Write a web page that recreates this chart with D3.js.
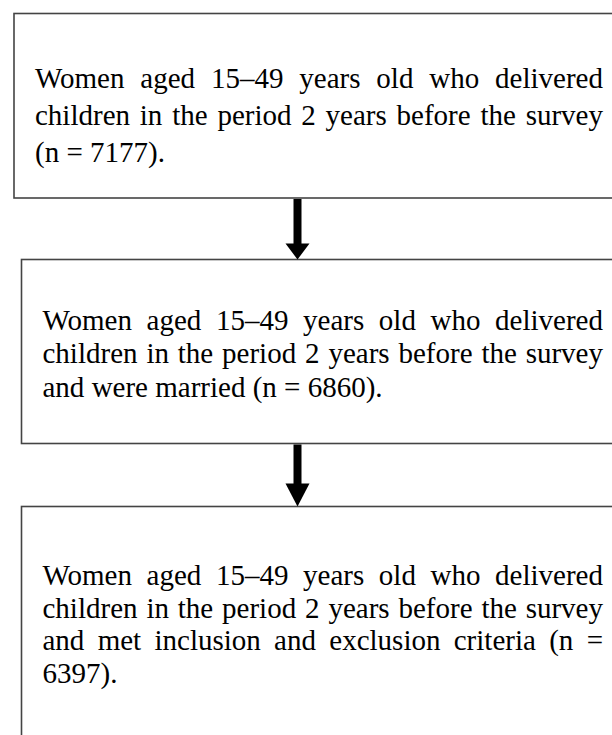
<!DOCTYPE html>
<html>
<head>
<meta charset="utf-8">
<script src="https://cdn.jsdelivr.net/npm/d3@7"></script>
<style>
    html, body { margin: 0; padding: 0; background: #fff; }
    svg { display: block; }
    .box-text { font-family: "Liberation Serif", "Times New Roman", serif; font-size: 29px; fill: #000; }
</style>
</head>
<body>
<div id="chart"></div>
<script>
// flow steps: what each stage describes and how many women remain
const step_descriptions = [
    'Women aged 15–49 years old who delivered children in the period 2 years before the survey',
    'Women aged 15–49 years old who delivered children in the period 2 years before the survey and were married',
    'Women aged 15–49 years old who delivered children in the period 2 years before the survey and met inclusion and exclusion criteria'
];
const sample_sizes = [7177, 6860, 6397];

// layout of each box (kept apart from the data)
const box_layout = [
    {x: 14, y: 13.5, h: 184.5, text_left: 35, text_right: 603, first_baseline: 87.5, line_gap: 37},
    {x: 21.5, y: 259.5, h: 184, text_left: 42.5, text_right: 603, first_baseline: 329.5, line_gap: 33.5},
    {x: 21.5, y: 506.5, h: 260, text_left: 42.5, text_right: 603, first_baseline: 585, line_gap: 32.7}
];
const arrow_x = 297.5;
const arrow_head_heights = [16, 23];

const width = 612, height = 735;

let svg = d3.select('#chart').append('svg')
    .attr('width', width)
    .attr('height', height);

let steps = step_descriptions.map((desc, i) => ({
    text: desc + ' (n = ' + sample_sizes[i] + ').',
    layout: box_layout[i]
}));

// boxes run off the right edge, like the original
svg.selectAll('rect.box')
    .data(steps)
    .join('rect')
    .attr('class', 'box')
    .attr('x', d => d.layout.x)
    .attr('y', d => d.layout.y)
    .attr('width', d => width + 20 - d.layout.x)
    .attr('height', d => d.layout.h)
    .attr('fill', '#fff')
    .attr('stroke', '#444')
    .attr('stroke-width', 1.6);

// measure a word with the real font
let measurer = svg.append('text').attr('class', 'box-text').attr('visibility', 'hidden');
function word_width(w) {
    measurer.text(w);
    return measurer.node().getComputedTextLength();
}
let space_width = (() => {
    measurer.text('a a');
    let with_space = measurer.node().getComputedTextLength();
    measurer.text('aa');
    return with_space - measurer.node().getComputedTextLength();
})();

function wrap_lines(text, max_width) {
    let words = text.split(' ');
    let lines = [];
    let current = [];
    let current_width = 0;
    words.forEach(word => {
        let ww = word_width(word);
        let needed = current.length === 0 ? ww : current_width + space_width + ww;
        if (current.length > 0 && needed > max_width) {
            lines.push(current);
            current = [];
            current_width = 0;
            needed = ww;
        }
        current.push({word: word, w: ww});
        current_width = needed;
    });
    if (current.length) lines.push(current);
    return lines;
}

steps.forEach(step => {
    let L = step.layout;
    let max_width = L.text_right - L.text_left;
    let lines = wrap_lines(step.text, max_width);
    let g = svg.append('g');
    lines.forEach((line, li) => {
        let is_last = li === lines.length - 1;
        let total = d3.sum(line, d => d.w);
        let gap = (!is_last && line.length > 1) ? (max_width - total) / (line.length - 1) : space_width;
        let x = L.text_left;
        line.forEach(d => {
            d.x = x;
            x += d.w + gap;
        });
        g.selectAll(null)
            .data(line)
            .join('text')
            .attr('class', 'box-text')
            .attr('x', d => d.x)
            .attr('y', L.first_baseline + li * L.line_gap)
            .text(d => d.word);
    });
});
measurer.remove();

// arrows between consecutive boxes
let arrows = d3.range(steps.length - 1).map(i => ({
    y0: box_layout[i].y + box_layout[i].h,
    y1: box_layout[i + 1].y,
    head: arrow_head_heights[i]
}));

svg.selectAll('line.shaft')
    .data(arrows)
    .join('line')
    .attr('class', 'shaft')
    .attr('x1', arrow_x).attr('x2', arrow_x)
    .attr('y1', d => d.y0 + 1)
    .attr('y2', d => d.y1 - d.head + 1)
    .attr('stroke', '#000')
    .attr('stroke-width', 8);

svg.selectAll('path.head')
    .data(arrows)
    .join('path')
    .attr('class', 'head')
    .attr('d', d => {
        let top = d.y1 - d.head;
        return 'M' + (arrow_x - 12) + ',' + top + 'L' + (arrow_x + 12) + ',' + top + 'L' + arrow_x + ',' + d.y1 + 'Z';
    })
    .attr('fill', '#000');
</script>
</body>
</html>
